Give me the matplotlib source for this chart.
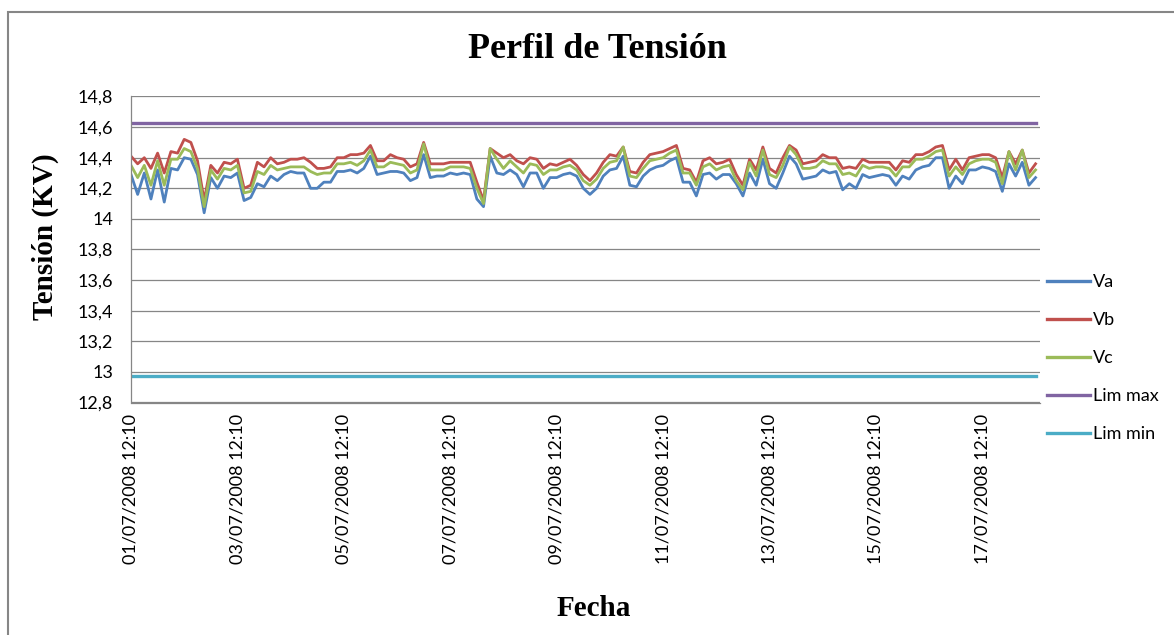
import matplotlib
matplotlib.use("Agg")
import matplotlib.pyplot as plt
from matplotlib.patches import Rectangle
import pandas as pd

plt.rcParams["font.family"] = ["Lato", "DejaVu Sans"]

# tensiones, una muestra cada 3 h desde 01/07/2008 12:10
va = [14.29, 14.16, 14.30, 14.13, 14.32, 14.11, 14.33, 14.32, 14.40, 14.39, 14.29, 14.04,
      14.27, 14.20, 14.28, 14.27, 14.30, 14.12, 14.14, 14.23, 14.21, 14.28, 14.25,
      14.29, 14.31, 14.30, 14.30, 14.20, 14.20, 14.24, 14.24, 14.31, 14.31, 14.32, 14.30,
      14.33, 14.41, 14.29, 14.30, 14.31, 14.31, 14.30, 14.25, 14.27, 14.42,
      14.27, 14.28, 14.28, 14.30, 14.29, 14.30, 14.29, 14.13, 14.08, 14.41, 14.30, 14.29,
      14.32, 14.29, 14.21, 14.30, 14.30, 14.20, 14.27, 14.27, 14.29, 14.30, 14.28, 14.20,
      14.16, 14.20, 14.28, 14.32, 14.33, 14.41, 14.22, 14.21, 14.28, 14.32, 14.34, 14.35,
      14.38, 14.40, 14.24, 14.24, 14.15, 14.29, 14.30, 14.26, 14.29,
      14.29, 14.23, 14.15, 14.30, 14.22, 14.39, 14.23, 14.20, 14.30, 14.41, 14.36, 14.26,
      14.27, 14.28, 14.32, 14.30, 14.31, 14.19, 14.23, 14.20, 14.29, 14.27, 14.28,
      14.29, 14.28, 14.22, 14.28, 14.26, 14.32, 14.34, 14.35, 14.40, 14.40, 14.20, 14.28,
      14.23, 14.32, 14.32, 14.34, 14.33, 14.31, 14.18, 14.36, 14.28, 14.37, 14.22, 14.27]

vb = [14.41, 14.36, 14.40, 14.33, 14.43, 14.30, 14.44, 14.43, 14.52, 14.50, 14.38, 14.12,
      14.35, 14.30, 14.37, 14.36, 14.39, 14.20, 14.22, 14.37, 14.34, 14.40, 14.36,
      14.37, 14.39, 14.39, 14.40, 14.37, 14.33, 14.33, 14.34, 14.40, 14.40, 14.42, 14.42,
      14.43, 14.48, 14.38, 14.38, 14.42, 14.40, 14.39, 14.34, 14.36, 14.50,
      14.36, 14.36, 14.36, 14.37, 14.37, 14.37, 14.37, 14.24, 14.12, 14.46, 14.43, 14.40,
      14.42, 14.38, 14.36, 14.40, 14.39, 14.33, 14.36, 14.35, 14.37, 14.39, 14.35, 14.29,
      14.25, 14.30, 14.37, 14.42, 14.41, 14.47, 14.31, 14.30, 14.37, 14.42, 14.43, 14.44,
      14.46, 14.48, 14.33, 14.32, 14.24, 14.38, 14.40, 14.36, 14.37,
      14.39, 14.29, 14.22, 14.39, 14.32, 14.47, 14.33, 14.30, 14.40, 14.48, 14.45, 14.36,
      14.37, 14.38, 14.42, 14.40, 14.40, 14.33, 14.34, 14.33, 14.39, 14.37, 14.37,
      14.37, 14.37, 14.32, 14.38, 14.37, 14.42, 14.42, 14.44, 14.47, 14.48, 14.32, 14.39,
      14.32, 14.40, 14.41, 14.42, 14.42, 14.40, 14.27, 14.44, 14.36, 14.45, 14.30, 14.36]

vc = [14.35, 14.27, 14.35, 14.22, 14.38, 14.22, 14.39, 14.39, 14.46, 14.44, 14.33, 14.08,
      14.32, 14.26, 14.33, 14.32, 14.35, 14.17, 14.18, 14.31, 14.29, 14.35, 14.32,
      14.33, 14.34, 14.34, 14.34, 14.31, 14.29, 14.30, 14.30, 14.36, 14.36, 14.37, 14.35,
      14.38, 14.45, 14.34, 14.34, 14.37, 14.36, 14.35, 14.30, 14.32, 14.49,
      14.32, 14.32, 14.32, 14.34, 14.34, 14.34, 14.33, 14.20, 14.10, 14.46, 14.39, 14.33,
      14.38, 14.34, 14.30, 14.36, 14.35, 14.29, 14.32, 14.32, 14.34, 14.35, 14.32, 14.25,
      14.22, 14.26, 14.33, 14.37, 14.38, 14.47, 14.28, 14.27, 14.33, 14.38, 14.39, 14.40,
      14.43, 14.45, 14.30, 14.30, 14.22, 14.34, 14.36, 14.32, 14.34,
      14.35, 14.25, 14.19, 14.37, 14.28, 14.45, 14.29, 14.27, 14.35, 14.47, 14.42, 14.33,
      14.33, 14.34, 14.38, 14.36, 14.36, 14.29, 14.30, 14.28, 14.35, 14.33, 14.34,
      14.34, 14.33, 14.28, 14.34, 14.34, 14.39, 14.39, 14.41, 14.44, 14.45, 14.28, 14.34,
      14.29, 14.36, 14.38, 14.39, 14.39, 14.37, 14.23, 14.44, 14.32, 14.45, 14.27, 14.32]

lim_max = 14.628
lim_min = 12.972

ytick_vals = [12.8, 13.0, 13.2, 13.4, 13.6, 13.8, 14.0, 14.2, 14.4, 14.6, 14.8]
ytick_labels = ["12,8", "13", "13,2", "13,4", "13,6", "13,8", "14", "14,2", "14,4", "14,6", "14,8"]
xtick_labels = ["01/07/2008 12:10", "03/07/2008 12:10", "05/07/2008 12:10",
                "07/07/2008 12:10", "09/07/2008 12:10", "11/07/2008 12:10",
                "13/07/2008 12:10", "15/07/2008 12:10", "17/07/2008 12:10"]

times = pd.date_range("2008-07-01 12:10", periods=len(va), freq="3h")
xticks = pd.to_datetime(xtick_labels, format="%d/%m/%Y %H:%M")

W, H = 1174, 635
fig = plt.figure(figsize=(W / 100, H / 100), dpi=100)
ax = fig.add_axes([131 / W, 1 - 402.5 / H, (1040 - 131) / W, (402.5 - 96.5) / H])

grid_col = "#868686"
ax.plot(times, va, color="#4F81BD", lw=2.0, label="Va")
ax.plot(times, vb, color="#C0504D", lw=2.0, label="Vb")
ax.plot(times, vc, color="#9BBB59", lw=2.0, label="Vc")
ax.plot(times, [lim_max] * len(times), color="#8064A2", lw=2.4, label="Lim max")
ax.plot(times, [lim_min] * len(times), color="#4BACC6", lw=2.4, label="Lim min")

ax.set_ylim(12.8, 14.8)
ax.set_xlim(times[0], times[-1] + pd.Timedelta(hours=2))
ax.set_yticks(ytick_vals)
ax.set_yticklabels(ytick_labels)
ax.set_xticks(xticks)
ax.set_xticklabels(xtick_labels, rotation=90, va="top", ha="center")
ax.tick_params(axis="y", length=0, pad=13, labelsize=13)
ax.tick_params(axis="x", length=0, pad=8, labelsize=13)
ax.yaxis.grid(True, color=grid_col, lw=0.9)
ax.set_axisbelow(True)
for side in ["top", "right"]:
    ax.spines[side].set_visible(False)
for side in ["left", "bottom"]:
    ax.spines[side].set_color(grid_col)
    ax.spines[side].set_linewidth(0.9)

fig.text(597 / W, 1 - 50 / H, "Perfil de Tensión", ha="center", va="center",
         family="Liberation Serif", weight="bold", fontsize=26)
fig.text(45 / W, 1 - 237 / H, "Tensión (KV)", ha="center", va="center", rotation=90,
         family="Liberation Serif", weight="bold", fontsize=21)
fig.text(594 / W, 1 - 608 / H, "Fecha", ha="center", va="center",
         family="Liberation Serif", weight="bold", fontsize=21)

leg = ax.legend(loc="center left", bbox_to_anchor=(1047 / W, 1 - 358 / H),
                bbox_transform=fig.transFigure, frameon=False, fontsize=13,
                handlelength=2.4, handletextpad=0.15, labelspacing=1.22,
                borderpad=0, borderaxespad=0)
for line in leg.get_lines():
    line.set_linewidth(2.4)

fig.add_artist(Rectangle((8 / W, -0.05), 1.1, 1.05 - 12 / H, transform=fig.transFigure,
                         fill=False, ec="#868686", lw=1.5))

fig.savefig("out.png", dpi=100)
